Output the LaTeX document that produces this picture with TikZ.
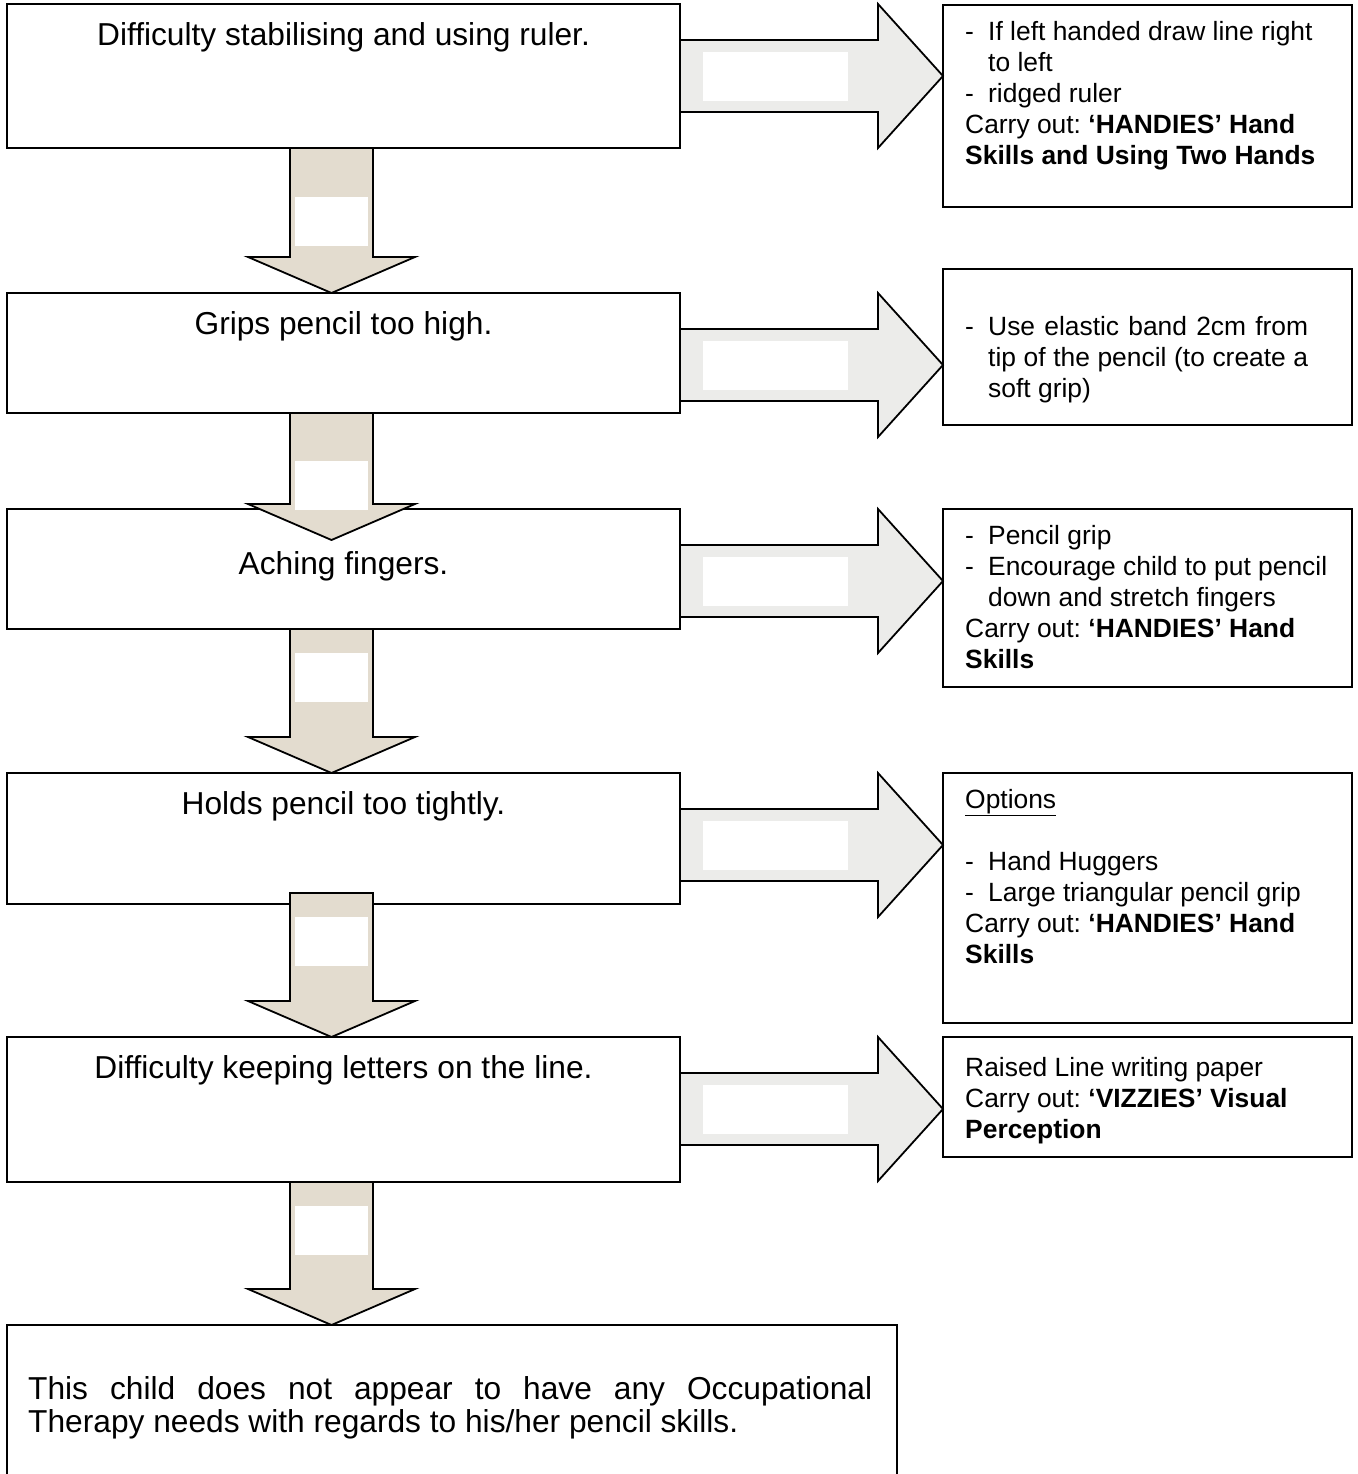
\documentclass[tikz,border=0pt]{standalone}
\usepackage{fontspec}
\setmainfont{Liberation Sans}
\usetikzlibrary{positioning, calc}
\frenchspacing

\definecolor{parchment}{RGB}{227,220,207}
\definecolor{stonegrey}{RGB}{236,236,234}

\newcommand{\bul}{\makebox[23pt][l]{-}}
\newcommand{\ind}{\hspace*{23pt}}

% block arrow down: from, to, start shift, tip shift, white patch offset
\newcommand{\blockdown}[5]{%
  \draw[down arrow] let \p1=(#1.south), \p2=(#2.north) in
    (290pt,\y1+#3) -- (373pt,\y1+#3) -- (373pt,\y2+#4+36pt) -- (415pt,\y2+#4+36pt)
    -- (331.5pt,\y2+#4) -- (248pt,\y2+#4+36pt) -- (290pt,\y2+#4+36pt) -- cycle;
  \fill[white] let \p1=(#1.south) in
    (295pt,\y1+#3-#5) rectangle (368pt,\y1+#3-#5-49pt);
}
% block arrow right: from, to
\newcommand{\blockright}[2]{%
  \draw[right arrow] let \p1=(#1.north east), \p2=(#2.west) in
    (\x1,\y1-36pt) -- (\x2-65pt,\y1-36pt) -- (\x2-65pt,\y1) -- (\x2,\y1-72pt)
    -- (\x2-65pt,\y1-144pt) -- (\x2-65pt,\y1-108pt) -- (\x1,\y1-108pt) -- cycle;
  \fill[white] let \p1=(#1.north east) in
    (\x1+23pt,\y1-48pt) rectangle (\x1+168pt,\y1-97pt);
}

\begin{document}
\begin{tikzpicture}[
    x=1pt, y=-1pt,
    issue box/.style={draw, line width=1.8pt, anchor=north west, minimum width=673pt, inner sep=0pt, outer sep=0pt},
    tip box/.style={draw, line width=1.8pt, anchor=north west, minimum width=409pt, inner sep=0pt, outer sep=0pt},
    issue text/.style={inner sep=0pt, font=\fontsize{31.7}{33}\selectfont},
    tip text/.style={inner sep=0pt, align=left, font=\fontsize{26.4}{31}\selectfont},
    down arrow/.style={draw, line width=1.8pt, fill=parchment},
    right arrow/.style={draw, line width=1.8pt, fill=stonegrey}
]
\useasboundingbox (0,0) rectangle (1357,1474);
\clip (0,0) rectangle (1357,1474);

% left column
\node[issue box, minimum height=144pt] (ruler) at (7,4) {};
\node[issue box, minimum height=120pt] (high) at (7,293) {};
\node[issue box, minimum height=120pt] (aching) at (7,509) {};
\node[issue box, minimum height=131pt] (tight) at (7,773) {};
\node[issue box, minimum height=145pt] (line) at (7,1037) {};
\node[issue box, minimum width=890pt, minimum height=200pt] (none) at (7,1325) {};

\node[issue text, below=18pt of ruler.north] {Difficulty stabilising and using ruler.};
\node[issue text, below=18pt of high.north] {Grips pencil too high.};
\node[issue text, below=42pt of aching.north] {Aching fingers.};
\node[issue text, below=18pt of tight.north] {Holds pencil too tightly.};
\node[issue text, below=18pt of line.north] {Difficulty keeping letters on the line.};
\node[issue text, align=left, below right=51pt and 21pt of none.north west]
  {\makebox[844pt][s]{This child does not appear to have any Occupational}\\
   Therapy needs with regards to his/her pencil skills.};

% right column
\node[tip box, minimum height=202pt] (ruler tip) at (943,5) {};
\node[tip box, minimum height=156pt] (high tip) at (943,269) {};
\node[tip box, minimum height=178pt] (aching tip) at (943,509) {};
\node[tip box, minimum height=250pt] (tight tip) at (943,773) {};
\node[tip box, minimum height=120pt] (line tip) at (943,1037) {};

\node[tip text, below right=16pt and 22pt of ruler tip.north west]
  {\bul If left handed draw line right\\
   \ind to left\\
   \bul ridged ruler\\
   Carry out: \textbf{‘HANDIES’ Hand}\\
   \textbf{Skills and Using Two Hands}};
\node[tip text, below right=47pt and 22pt of high tip.north west]
  {\bul\makebox[320pt][s]{Use elastic band 2cm from}\\
   \ind\makebox[320pt][s]{tip of the pencil (to create a}\\
   \ind soft grip)};
\node[tip text, below right=16pt and 22pt of aching tip.north west]
  {\bul Pencil grip\\
   \bul Encourage child to put pencil\\
   \ind down and stretch fingers\\
   Carry out: \textbf{‘HANDIES’ Hand}\\
   \textbf{Skills}};
\node[tip text, below right=16pt and 22pt of tight tip.north west]
  {\underline{Options}\\[31pt]
   \bul Hand Huggers\\
   \bul Large triangular pencil grip\\
   Carry out: \textbf{‘HANDIES’ Hand}\\
   \textbf{Skills}};
\node[tip text, below right=20pt and 22pt of line tip.north west]
  {Raised Line writing paper\\
   Carry out: \textbf{‘VIZZIES’ Visual}\\
   \textbf{Perception}};

% arrows
\blockdown{ruler}{high}{0pt}{0pt}{49pt}
\blockdown{high}{aching}{0pt}{-31pt}{48pt}
\blockdown{aching}{tight}{0pt}{0pt}{24pt}
\blockdown{tight}{line}{11pt}{0pt}{24pt}
\blockdown{line}{none}{0pt}{0pt}{24pt}

\blockright{ruler}{ruler tip}
\blockright{high}{high tip}
\blockright{aching}{aching tip}
\blockright{tight}{tight tip}
\blockright{line}{line tip}

\end{tikzpicture}
\end{document}
